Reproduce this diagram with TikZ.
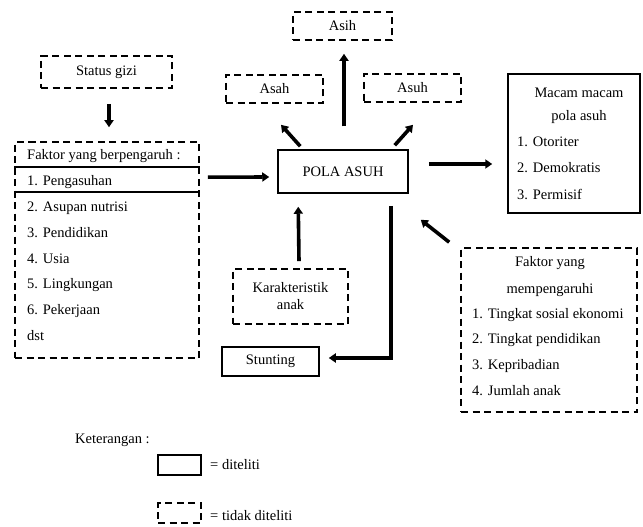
\documentclass[tikz,border=0pt]{standalone}
\usepackage{fontspec}
\setmainfont{Liberation Serif}
\usetikzlibrary{arrows.meta,calc}
\begin{document}
\begin{tikzpicture}[x=1pt,y=-1pt,
  every node/.style={font=\fontsize{14.5}{17}\selectfont, inner sep=0pt},
  solidbox/.style={draw, line width=1.5pt, minimum width=#1},
  dashbox/.style={draw, line width=1.6pt, dash pattern=on 7pt off 4.5pt, minimum width=#1},
  txt/.style={anchor=west},
  arr/.style={line width=3.6pt, -{Triangle[length=7pt,width=9pt]}},
]
\useasboundingbox (0,0) rectangle (643,527);

% boxes
\node[dashbox=131pt, minimum height=32pt] (gizi) at (106.5,72) {Status gizi};
\node[dashbox=184pt, minimum height=216pt] (left) at (107,250) {};
\node[dashbox=99pt, minimum height=28pt] (asih) at (342.5,26) {Asih};
\node[dashbox=97pt, minimum height=28pt] (asah) at (274.5,89) {Asah};
\node[dashbox=97pt, minimum height=28pt] (asuh) at (412.5,88) {Asuh};
\node[solidbox=130pt, minimum height=43pt] (pola) at (343,171.5) {POLA ASUH};
\node[solidbox=132pt, minimum height=139pt] (macam) at (574,143.5) {};
\node[dashbox=176pt, minimum height=164pt] (fak) at (549,330) {};
\node[dashbox=115pt, minimum height=55pt, align=center] (karak) at (290.5,296.5) {Karakteristik\\anak};
\node[solidbox=97pt, minimum height=29pt] (stunt) at (270.5,361.5) {Stunting};

% left box contents
\node[txt] (l0) at (27,156) {Faktor yang berpengaruh :};
\node[txt] (l1) at (27,182) {1. Pengasuhan};
\node[txt] (l2) at (27,208) {2. Asupan nutrisi};
\node[txt] (l3) at (27,233) {3. Pendidikan};
\node[txt] (l4) at (27,259) {4. Usia};
\node[txt] (l5) at (27,285) {5. Lingkungan};
\node[txt] (l6) at (27,311) {6. Pekerjaan};
\node[txt] (l7) at (27,336) {dst};
\draw[line width=1.5pt] ($(left.north west)+(0,26)$) -- ($(left.north east)+(0,26)$);
\draw[line width=1.5pt] ($(left.north west)+(0,51)$) -- ($(left.north east)+(0,51)$);

% macam contents
\node (m0) at (579,93) {Macam macam};
\node (m1) at (579,117) {pola asuh};
\node[txt] (m2) at (517,142) {1. Otoriter};
\node[txt] (m3) at (517,168) {2. Demokratis};
\node[txt] (m4) at (517,194) {3. Permisif};

% faktor contents
\node (f0) at (550,263) {Faktor yang};
\node (f1) at (550,290) {mempengaruhi};
\node[txt] (f2) at (472,315) {1. Tingkat sosial ekonomi};
\node[txt] (f3) at (472,340) {2. Tingkat pendidikan};
\node[txt] (f4) at (472,366) {3. Kepribadian};
\node[txt] (f5) at (472,391) {4. Jumlah anak};

% arrows
\draw[arr] ($(gizi.south)+(2.5,15)$) -- ($(left.north)+(2,-14)$);
\draw[arr] ($(left.north east)+(8,36)$) -- ($(pola.west)+(-8,5.5)$);
\draw[arr] ($(pola.north)+(1,-23)$) -- ($(asih.south)+(1.5,13)$);
\draw[arr] ($(pola.north west)+(23,-3)$) -- ($(asah.south)+(6.5,21)$);
\draw[arr] ($(pola.north east)+(-14,-4)$) -- ($(asuh.south)+(0.5,22)$);
\draw[arr] ($(pola.east)+(20,-7.5)$) -- ($(macam.west)+(-15,20.5)$);
\draw[arr] ($(fak.north west)+(-11,-5)$) -- ($(pola.south east)+(12,26)$);
\draw[arr] ($(karak.north)+(8.5,-7)$) -- ($(pola.south west)+(21,13)$);
\draw[line width=3.6pt, -{Triangle[length=7pt,width=9pt]}] ($(pola.south east)+(-18,12)$) |- ($(stunt.east)+(9,-3.5)$);

% legend
\node[txt] (ket) at (75,440) {Keterangan :};
\node[solidbox=43pt, minimum height=20pt] (legA) at (179.5,465) {};
\node[dashbox=43pt, minimum height=20pt] (legB) at (179.5,513) {};
\node[txt] (legAt) at (210,465) {= diteliti};
\node[txt] (legBt) at (210,516) {= tidak diteliti};
\end{tikzpicture}
\end{document}
